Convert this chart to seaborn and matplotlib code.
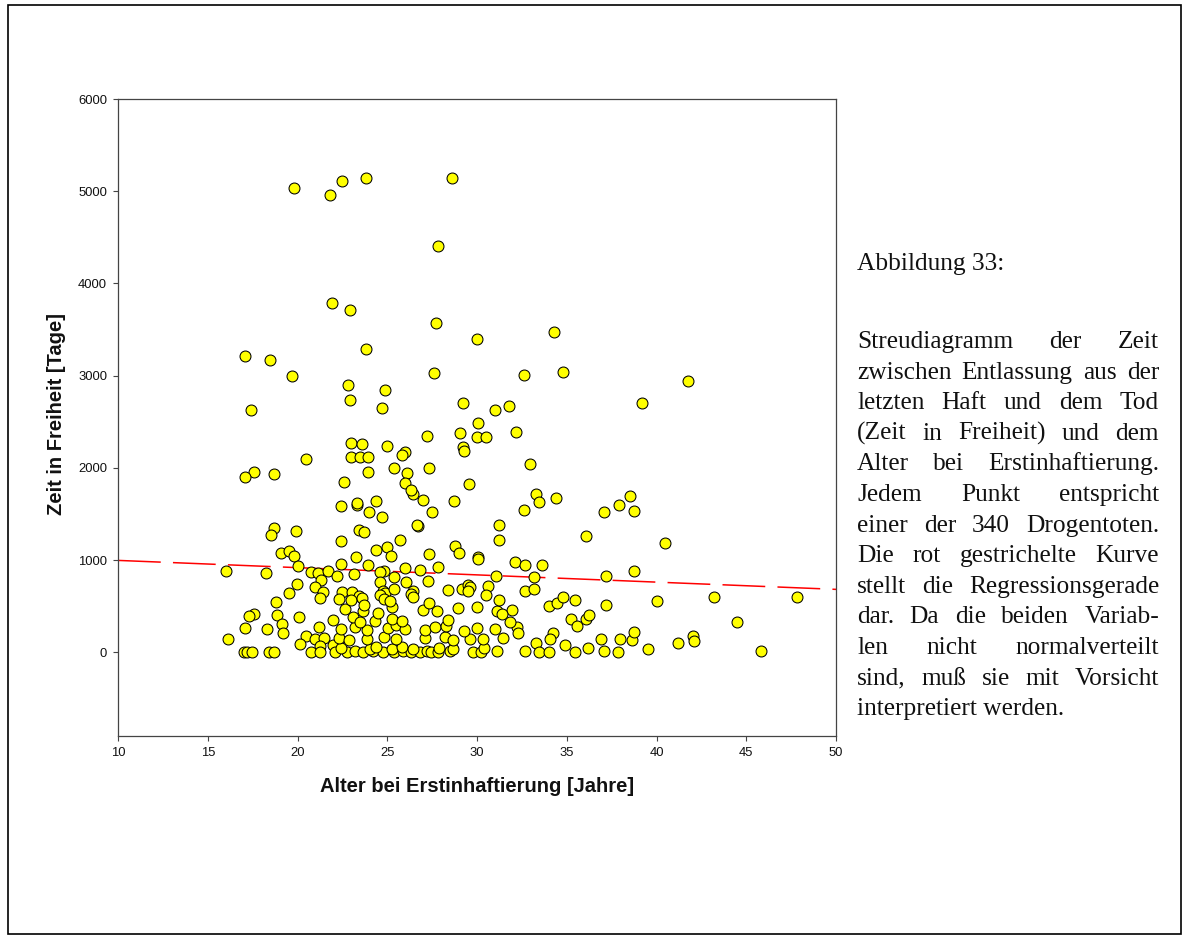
import matplotlib
matplotlib.use("Agg")
import matplotlib.pyplot as plt
from matplotlib.patches import Rectangle
import numpy as np
import pandas as pd
import seaborn as sns

# ---------------- data ----------------
alter_hoch = [19.8, 21.8, 22.5, 23.8, 28.6, 27.8, 21.9, 22.9, 27.7, 30.0, 34.3, 23.8,
              17.1, 18.45, 19.7, 27.6, 32.6, 34.8, 41.75, 22.8, 22.9, 24.9, 24.7, 17.4,
              39.2, 29.2, 31.0, 31.8, 30.05, 29.05, 30.0, 30.5, 32.2, 27.2, 29.2, 29.3,
              32.95, 27.3, 26.0, 25.8, 23.0, 23.6, 25.0, 23.0, 23.5, 23.9, 20.5, 23.9,
              25.4, 26.1, 26.0, 26.45, 26.3, 17.6, 17.1, 18.7, 22.6, 29.55, 27.0, 28.7,
              27.5, 26.7, 33.3, 33.45, 34.4, 32.6, 37.1, 37.9, 38.5, 38.75, 31.2, 31.2,
              36.1, 40.5, 28.8, 29.0, 27.3, 30.05, 30.05, 22.4, 23.3, 23.3, 24.4, 24.0,
              24.7, 18.7, 18.5, 19.9, 23.4, 23.7, 22.4, 25.7, 26.65, 19.1, 19.5, 19.8,
              24.35, 24.97, 25.2, 23.25, 22.45, 23.95, 32.1, 32.65, 33.6]
zeit_hoch = [5030, 4960, 5110, 5140, 5145, 4410, 3790, 3715, 3570, 3400, 3470, 3290,
             3215, 3175, 3000, 3025, 3010, 3043, 2945, 2900, 2740, 2840, 2650, 2630,
             2705, 2705, 2630, 2675, 2490, 2380, 2335, 2340, 2390, 2350, 2230, 2185,
             2045, 2000, 2170, 2140, 2270, 2260, 2240, 2120, 2120, 2120, 2100, 1955,
             2000, 1945, 1835, 1715, 1755, 1955, 1905, 1935, 1850, 1825, 1650, 1640,
             1520, 1370, 1720, 1630, 1670, 1540, 1520, 1600, 1695, 1530, 1380, 1220,
             1260, 1185, 1150, 1075, 1065, 1030, 1010, 1590, 1600, 1620, 1640, 1520,
             1465, 1345, 1270, 1315, 1325, 1305, 1210, 1215, 1380, 1075, 1095, 1050,
             1105, 1140, 1050, 1030, 955, 945, 980, 950, 945]

alter_tief = [16.0, 18.23, 20.0, 20.75, 21.15, 21.7, 21.3, 21.0, 21.4, 21.25, 22.2, 19.95,
              19.5, 18.8, 17.55, 17.3, 17.05, 16.15, 18.3, 18.85, 19.15, 19.2, 20.1, 21.2,
              20.5, 20.95, 21.5, 20.15, 21.25, 20.75, 21.25, 21.95, 17.0, 17.2, 17.45, 18.4,
              18.7, 23.15, 24.8, 24.6, 25.4, 26.0, 26.8, 27.85, 31.05, 27.25, 26.05, 24.6,
              22.5, 23.05, 23.45, 24.75, 24.9, 24.6, 25.35, 26.45, 26.3, 28.4, 29.15, 29.5,
              29.6, 29.5, 30.6, 30.5, 33.15, 32.65, 33.2, 37.2, 38.75, 32.25, 32.3, 34.0,
              34.45, 34.8, 35.45, 37.2, 40.05, 43.2, 47.8, 35.25, 35.55, 36.05, 36.25, 44.5,
              34.25, 34.05, 33.3, 32.65, 33.45, 34.0, 34.9, 35.45, 36.2, 36.9, 37.05, 37.95,
              37.85, 38.65, 38.75, 39.5, 41.2, 42.05, 42.1, 45.8]
zeit_tief = [880, 857, 935, 870, 865, 880, 780, 705, 650, 585, 825, 740,
             640, 545, 415, 390, 260, 140, 250, 400, 310, 205, 385, 270,
             180, 150, 155, 95, 65, 5, 5, 75, 5, 5, 5, 5,
             5, 850, 880, 870, 815, 910, 890, 930, 830, 775, 765, 760,
             650, 655, 610, 670, 640, 620, 690, 660, 635, 680, 690, 725,
             710, 660, 715, 620, 815, 665, 690, 825, 885, 275, 215, 500,
             535, 595, 570, 510, 555, 595, 600, 365, 285, 360, 400, 330,
             215, 140, 105, 15, 5, 5, 75, 5, 45, 140, 20, 140,
             0, 130, 220, 40, 100, 175, 120, 20]

alter_dicht = [22.1, 22.75, 23.2, 23.65, 24.2, 24.75, 25.4, 25.85, 26.3, 26.8, 27.2, 27.45,
               27.8, 28.5, 29.8, 30.25, 31.1,
               22.4, 24.05, 24.4, 25.25, 25.8, 26.45, 27.9, 28.65, 30.4,
               22.3, 22.85, 23.85, 24.8, 25.5, 27.1, 28.2, 28.65, 29.6, 30.35, 31.45,
               22.4, 23.2, 23.85, 25.05, 25.5, 26.0, 27.1, 27.65, 28.3, 29.3, 30.0, 31.0,
               21.95, 23.1, 23.5, 24.3, 25.25, 25.8, 28.4,
               22.65, 23.65, 24.5, 25.25, 27.0, 27.75, 28.95, 30.0, 31.1, 31.95,
               22.3, 23.0, 23.6, 24.8, 25.15, 26.45,
               27.3, 31.2, 31.4, 31.85, 23.7]
zeit_dicht = [0, 5, 10, 0, 15, 5, 0, 10, 5, 0, 10, 5,
              0, 15, 5, 0, 10,
              45, 40, 55, 35, 60, 40, 50, 35, 45,
              160, 135, 150, 170, 140, 155, 165, 130, 150, 145, 160,
              250, 275, 245, 265, 300, 255, 240, 270, 290, 235, 260, 250,
              355, 385, 330, 345, 365, 340, 350,
              470, 445, 430, 490, 460, 450, 480, 490, 445, 455,
              580, 570, 590, 575, 560, 595,
              530, 565, 420, 330, 510]

reg_x = [10, 50]          # regression line end points
reg_y = [997, 683]

x_ticks = [10, 15, 20, 25, 30, 35, 40, 45, 50]
y_ticks = [0, 1000, 2000, 3000, 4000, 5000, 6000]

x_label = "Alter bei Erstinhaftierung [Jahre]"
y_label = "Zeit in Freiheit [Tage]"
caption_title = "Abbildung 33:"
caption_lines = ["Streudiagramm der Zeit",
                 "zwischen Entlassung aus der",
                 "letzten Haft und dem Tod",
                 "(Zeit in Freiheit) und dem",
                 "Alter bei Erstinhaftierung.",
                 "Jedem Punkt entspricht",
                 "einer der 340 Drogentoten.",
                 "Die rot gestrichelte Kurve",
                 "stellt die Regressionsgerade",
                 "dar. Da die beiden Variab-",
                 "len nicht normalverteilt",
                 "sind, muß sie mit Vorsicht",
                 "interpretiert werden."]

# ---------------- figure ----------------
plt.rcParams["font.family"] = ["Liberation Sans", "DejaVu Sans"]
W, H = 1183, 939
fig = plt.figure(figsize=(W / 100, H / 100), dpi=100)
fig.patch.set_facecolor("white")

AX_L, AX_R, AX_T, AX_B = 118, 836, 99, 736
ax = fig.add_axes([AX_L / W, 1 - AX_B / H, (AX_R - AX_L) / W, (AX_B - AX_T) / H])

df = pd.DataFrame({"Alter": alter_hoch + alter_tief + alter_dicht,
                   "Zeit": zeit_hoch + zeit_tief + zeit_dicht})

sns.lineplot(x=reg_x, y=reg_y, ax=ax, color="red", linewidth=1.1, zorder=2)
ax.lines[-1].set_linestyle((0, (28, 8)))
sns.scatterplot(data=df, x="Alter", y="Zeit", ax=ax, s=62, color="#FFFF00",
                edgecolor="black", linewidth=0.75, zorder=3, legend=False)

ax.set_xlim(10, 50)
ax.set_ylim(-907, 6000)
ax.set_xticks(x_ticks)
ax.set_yticks(y_ticks)
ax.set_xticklabels([str(t) for t in x_ticks])
ax.set_yticklabels([str(t) for t in y_ticks])
ax.tick_params(direction="out", length=3.3, width=0.8, color="#444444",
               labelsize=9.4, pad=4.6, labelcolor="#111111")
for sp in ax.spines.values():
    sp.set_visible(True)
    sp.set_color("#444444")
    sp.set_linewidth(0.9)
ax.set_facecolor("white")
ax.grid(False)

ax.set_xlabel(x_label, fontsize=14.5, fontweight="bold", color="#111111")
ax.set_ylabel(y_label, fontsize=14.5, fontweight="bold", color="#111111")
ax.xaxis.label.set_va("center")
ax.yaxis.label.set_va("center")
ax.xaxis.set_label_coords(0.5, (AX_B - 787) / (AX_B - AX_T))
ax.yaxis.set_label_coords((57 - AX_L) / (AX_R - AX_L), (AX_B - 414) / (AX_B - AX_T))

# ---------------- caption text (justified) ----------------
serif = ["Liberation Serif", "DejaVu Serif"]
FS = 18.3
TX_L, TX_R = 857, 1159
fig.text(TX_L / W, 1 - 270 / H, caption_title, family=serif, fontsize=FS,
         ha="left", va="baseline", color="#111111")
renderer = fig.canvas.get_renderer()
for i, line in enumerate(caption_lines):
    yb = 1 - (348 + i * 30.6) / H
    if i == len(caption_lines) - 1:
        fig.text(TX_L / W, yb, line, family=serif, fontsize=FS, ha="left",
                 va="baseline", color="#111111")
        continue
    words = line.split(" ")
    texts = [fig.text(0, yb, w, family=serif, fontsize=FS, ha="left",
                      va="baseline", color="#111111") for w in words]
    widths = [t.get_window_extent(renderer).width for t in texts]
    gap = (TX_R - TX_L - sum(widths)) / (len(words) - 1)
    xcur = TX_L
    for t, wd in zip(texts, widths):
        t.set_x(xcur / W)
        xcur += wd + gap

# ---------------- outer frame ----------------
fig.patches.append(Rectangle((7.5 / W, 5 / H), (1180.5 - 7.5) / W, (934 - 5) / H,
                             transform=fig.transFigure, fill=False,
                             edgecolor="black", linewidth=1.2))

fig.savefig("out.png", dpi=100, facecolor="white")
